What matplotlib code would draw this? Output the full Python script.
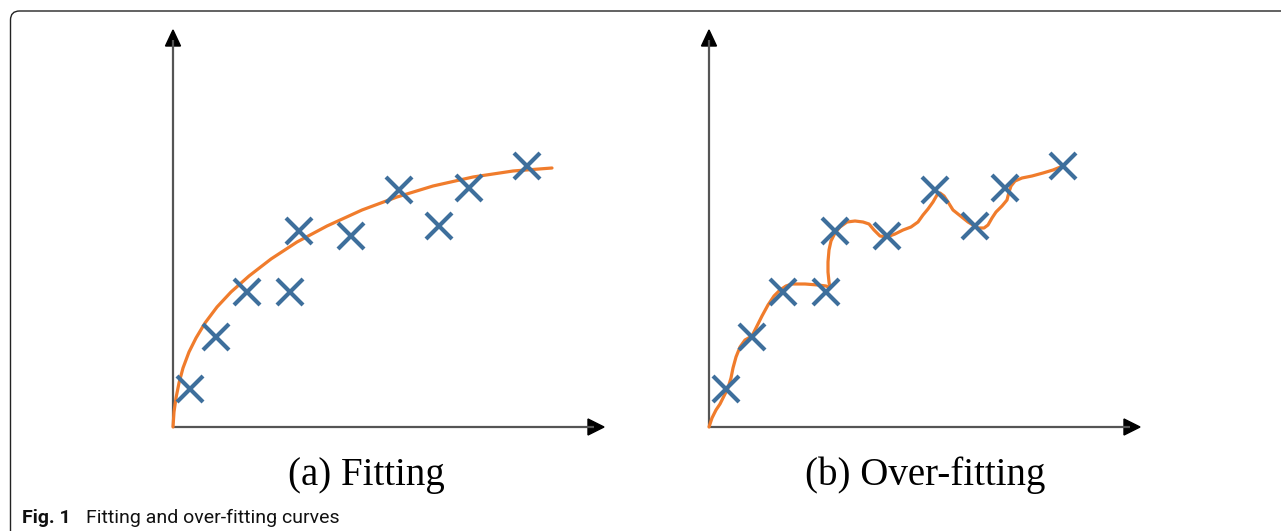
import matplotlib
matplotlib.use("Agg")
import matplotlib.pyplot as plt
from matplotlib.patches import Polygon, FancyBboxPatch
from matplotlib.transforms import IdentityTransform

# ---- data (arbitrary units) ----
point_x = [17, 43, 74, 117, 126, 178, 226, 266, 296, 354]
point_y = [38, 90, 135, 135, 196, 191, 237, 201, 239, 261]

fit_x = [0, 1, 3, 6, 10, 16, 23, 32, 44, 58, 76, 98, 124, 154, 189, 224, 260, 300, 340, 379]
fit_y = [0, 15, 29, 44, 59, 75, 89, 104, 120, 135, 151, 168, 185, 201, 217, 230, 241, 250, 256, 259]

over_x = [0, 3, 7, 11, 15, 19, 22, 24, 27, 31, 36, 43, 48, 53, 59, 65, 71, 77, 83, 96,
          109, 117, 121, 120, 119, 119, 120, 122, 126, 131, 138, 146, 154, 160, 165, 171,
          178, 186, 194, 202, 209, 214, 219, 224, 228, 231, 235, 239, 244, 249, 254, 259,
          264, 269, 275, 279, 283, 287, 293, 298, 300, 302, 306, 313, 323, 334, 344, 354]
over_y = [0, 9, 17, 23, 31, 39, 49, 59, 70, 80, 87, 91, 101, 111, 122, 131, 137, 141, 143, 143,
          142, 141, 139, 145, 155, 165, 177, 186, 194, 200, 205, 206, 205, 203, 197, 191,
          190, 193, 197, 200, 205, 212, 218, 225, 232, 234, 231, 225, 217, 213, 209, 205,
          202, 199, 199, 202, 209, 215, 221, 227, 235, 241, 246, 249, 251, 254, 257, 261]

panel_labels = ["(a) Fitting", "(b) Over-fitting"]
caption_bold = "Fig. 1"
caption_text = "Fitting and over-fitting curves"

# ---- styling ----
W, H = 1281, 531
XMAX, YMAX = 431, 397
BLUE = "#3e6f9c"
ORANGE = "#f07c2c"
AXIS_C = "#555555"

fig = plt.figure(figsize=(W / 100, H / 100), dpi=100)
fig.patch.set_facecolor("white")

# frame with rounded top-left corner (runs off the right and bottom edges)
frame = FancyBboxPatch((10.5, -40), 1400, 520.5 + 40 - 0.5,
                       boxstyle="round,pad=0,rounding_size=9",
                       transform=IdentityTransform(), fill=False,
                       edgecolor="#222222", linewidth=1.0)
fig.patches.append(frame)

def make_panel(left_px, cx, cy):
    ax = fig.add_axes([left_px / W, (H - 427) / H, XMAX / W, YMAX / H])
    ax.set_xlim(0, XMAX)
    ax.set_ylim(0, YMAX)
    ax.axis("off")
    # axis lines
    ax.plot([0, XMAX - 10], [0, 0], color=AXIS_C, lw=1.6, clip_on=False, solid_capstyle="butt")
    ax.plot([0, 0], [0, YMAX - 10], color=AXIS_C, lw=1.6, clip_on=False, solid_capstyle="butt")
    # arrow heads
    ax.add_patch(Polygon([[XMAX, 0], [XMAX - 16, 8], [XMAX - 16, -8]], closed=True,
                         color="black", clip_on=False))
    ax.add_patch(Polygon([[0, YMAX], [-7.5, YMAX - 16], [7.5, YMAX - 16]], closed=True,
                         color="black", clip_on=False))
    ax.plot(cx, cy, color=ORANGE, lw=2.3, clip_on=False, zorder=2,
            solid_capstyle="round", solid_joinstyle="round")
    ax.plot(point_x, point_y, linestyle="none", marker="x", markersize=18.5,
            markeredgewidth=3.0, color=BLUE, clip_on=False, zorder=3)
    return ax

make_panel(173, fit_x, fit_y)
make_panel(709, over_x, over_y)

fig.text(366 / W, (H - 485) / H, panel_labels[0], ha="center", va="baseline",
         fontsize=28, family="Liberation Serif", color="black")
fig.text(925 / W, (H - 485) / H, panel_labels[1], ha="center", va="baseline",
         fontsize=28, family="Liberation Serif", color="black")

fig.text(22 / W, (H - 523) / H, caption_bold, ha="left", va="baseline",
         fontsize=14, family="Roboto", fontweight="bold", color="#111111")
fig.text(86 / W, (H - 523) / H, caption_text, ha="left", va="baseline",
         fontsize=14, family="Roboto", color="#111111")

fig.savefig("out.png", dpi=100)
